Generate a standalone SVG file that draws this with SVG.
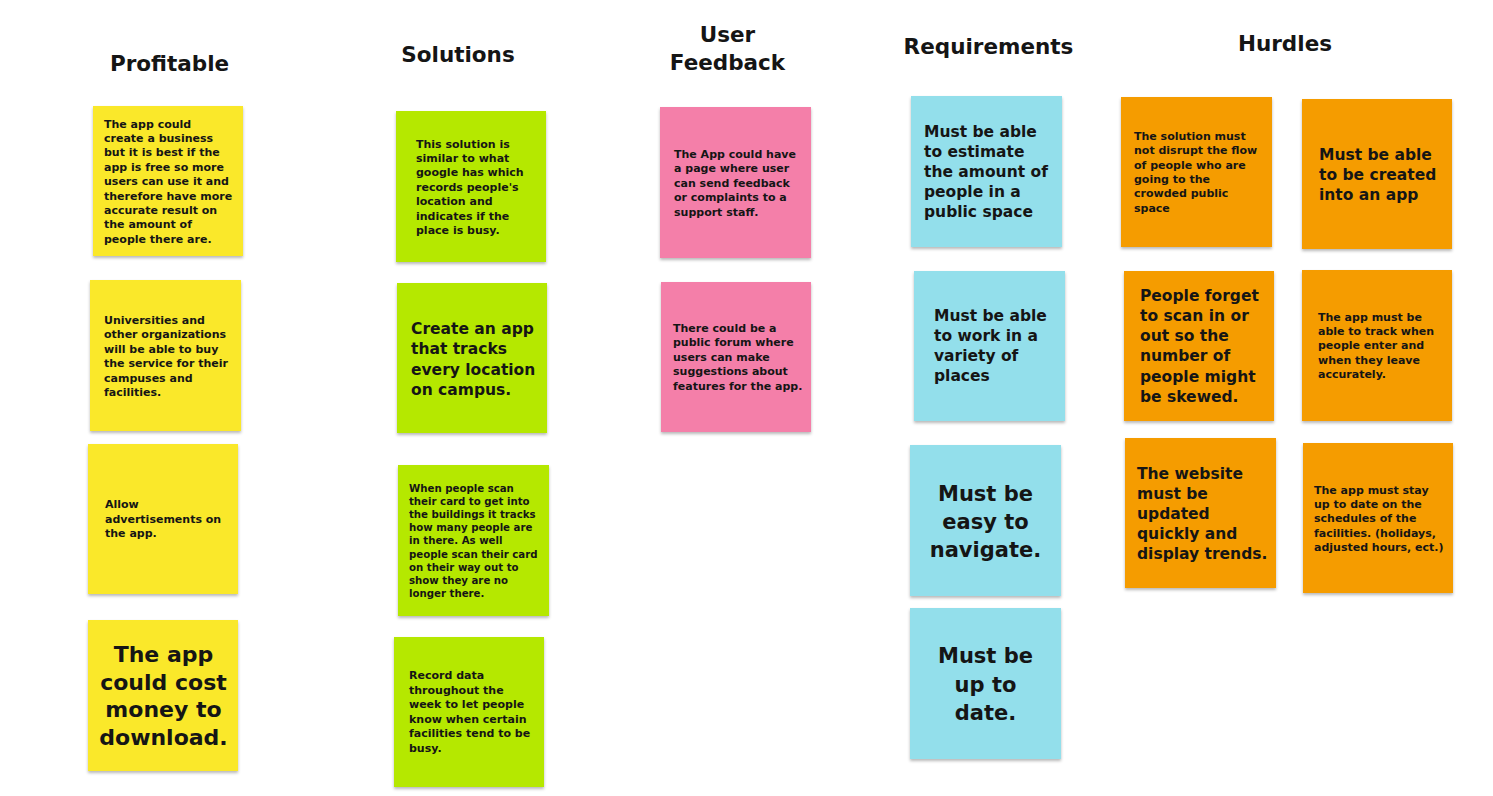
<svg xmlns="http://www.w3.org/2000/svg" width="1493" height="796" viewBox="0 0 1493 796">
<defs>
<filter id="sh" x="-10%" y="-10%" width="120%" height="125%">
<feDropShadow dx="0" dy="2" stdDeviation="1.5" flood-color="#000" flood-opacity="0.28"/>
</filter>
<style>
text{font-family:"DejaVu Sans","Liberation Sans",sans-serif;font-weight:bold;fill:#151515}
.h{font-size:21.5px;text-anchor:middle}
.s{font-size:11px}
.xs{font-size:10.2px}
.m{font-size:15.5px}
.l{font-size:21px;text-anchor:middle}
.ll{font-size:22px;text-anchor:middle}
.note{filter:url(#sh)}
.y{fill:#fae82a}
.g{fill:#b5e800}
.p{fill:#f47fa9}
.b{fill:#93dfeb}
.o{fill:#f59c00}
</style>
</defs>
<rect width="1493" height="796" fill="#ffffff"/>

<g id="headers">
<text class="h" x="169.5" y="71">Profitable</text>
<text class="h" x="458" y="62">Solutions</text>
<text class="h" x="727.5" y="41.5">User</text>
<text class="h" x="727.5" y="69.5">Feedback</text>
<text class="h" x="988.5" y="53.5">Requirements</text>
<text class="h" x="1285" y="51">Hurdles</text>
</g>

<g id="connectors"></g>

<!-- Profitable -->
<g id="profit1">
<rect class="note y" x="93" y="106" width="150" height="150"/>
<text class="s" x="104"><tspan x="104" y="127.5">The app could</tspan><tspan x="104" y="141.9">create a business</tspan><tspan x="104" y="156.3">but it is best if the</tspan><tspan x="104" y="170.7">app is free so more</tspan><tspan x="104" y="185.1">users can use it and</tspan><tspan x="104" y="199.5">therefore have more</tspan><tspan x="104" y="213.9">accurate result on</tspan><tspan x="104" y="228.3">the amount of</tspan><tspan x="104" y="242.7">people there are.</tspan></text>
</g>
<g id="profit2">
<rect class="note y" x="90" y="280" width="151" height="151"/>
<text class="s"><tspan x="104" y="323.5">Universities and</tspan><tspan x="104" y="338">other organizations</tspan><tspan x="104" y="352.5">will be able to buy</tspan><tspan x="104" y="367">the service for their</tspan><tspan x="104" y="381.5">campuses and</tspan><tspan x="104" y="396">facilities.</tspan></text>
</g>
<g id="profit3">
<rect class="note y" x="88" y="444" width="150" height="150"/>
<text class="s"><tspan x="105" y="508">Allow</tspan><tspan x="105" y="522.5">advertisements on</tspan><tspan x="105" y="537">the app.</tspan></text>
</g>
<g id="profit4">
<rect class="note y" x="88" y="620" width="150" height="151"/>
<text class="ll"><tspan x="163.5" y="662">The app</tspan><tspan x="163.5" y="689.5">could cost</tspan><tspan x="163.5" y="717">money to</tspan><tspan x="163.5" y="744.5">download.</tspan></text>
</g>

<!-- Solutions -->
<g id="sol1">
<rect class="note g" x="396" y="111" width="150" height="151"/>
<text class="s"><tspan x="416" y="147.5">This solution is</tspan><tspan x="416" y="161.9">similar to what</tspan><tspan x="416" y="176.3">google has which</tspan><tspan x="416" y="190.7">records people's</tspan><tspan x="416" y="205.1">location and</tspan><tspan x="416" y="219.5">indicates if the</tspan><tspan x="416" y="233.9">place is busy.</tspan></text>
</g>
<g id="sol2">
<rect class="note g" x="397" y="283" width="150" height="150"/>
<text class="m"><tspan x="411" y="333.5">Create an app</tspan><tspan x="411" y="354">that tracks</tspan><tspan x="411" y="374.5">every location</tspan><tspan x="411" y="395">on campus.</tspan></text>
</g>
<g id="sol3">
<rect class="note g" x="398" y="465" width="151" height="151"/>
<text class="xs"><tspan x="409" y="492">When people scan</tspan><tspan x="409" y="505.1">their card to get into</tspan><tspan x="409" y="518.2">the buildings it tracks</tspan><tspan x="409" y="531.3">how many people are</tspan><tspan x="409" y="544.4">in there. As well</tspan><tspan x="409" y="557.5">people scan their card</tspan><tspan x="409" y="570.6">on their way out to</tspan><tspan x="409" y="583.7">show they are no</tspan><tspan x="409" y="596.8">longer there.</tspan></text>
</g>
<g id="sol4">
<rect class="note g" x="394" y="637" width="150" height="150"/>
<text class="s"><tspan x="409" y="679">Record data</tspan><tspan x="409" y="693.5">throughout the</tspan><tspan x="409" y="708">week to let people</tspan><tspan x="409" y="722.5">know when certain</tspan><tspan x="409" y="737">facilities tend to be</tspan><tspan x="409" y="751.5">busy.</tspan></text>
</g>

<!-- User Feedback -->
<g id="fb1">
<rect class="note p" x="660" y="107" width="151" height="151"/>
<text class="s"><tspan x="674" y="158">The App could have</tspan><tspan x="674" y="172.4">a page where user</tspan><tspan x="674" y="186.8">can send feedback</tspan><tspan x="674" y="201.2">or complaints to a</tspan><tspan x="674" y="215.6">support staff.</tspan></text>
</g>
<g id="fb2">
<rect class="note p" x="661" y="282" width="150" height="150"/>
<text class="s"><tspan x="673" y="331.5">There could be a</tspan><tspan x="673" y="346">public forum where</tspan><tspan x="673" y="360.5">users can make</tspan><tspan x="673" y="375">suggestions about</tspan><tspan x="673" y="389.5">features for the app.</tspan></text>
</g>

<!-- Requirements -->
<g id="req1">
<rect class="note b" x="911" y="96" width="151" height="151"/>
<text class="m"><tspan x="924" y="137">Must be able</tspan><tspan x="924" y="157">to estimate</tspan><tspan x="924" y="177">the amount of</tspan><tspan x="924" y="197">people in a</tspan><tspan x="924" y="217">public space</tspan></text>
</g>
<g id="req2">
<rect class="note b" x="914" y="271" width="151" height="150"/>
<text class="m"><tspan x="934" y="321">Must be able</tspan><tspan x="934" y="341">to work in a</tspan><tspan x="934" y="361">variety of</tspan><tspan x="934" y="381">places</tspan></text>
</g>
<g id="req3">
<rect class="note b" x="910" y="445" width="151" height="151"/>
<text class="l"><tspan x="985.5" y="501">Must be</tspan><tspan x="985.5" y="529">easy to</tspan><tspan x="985.5" y="557">navigate.</tspan></text>
</g>
<g id="req4">
<rect class="note b" x="910" y="608" width="151" height="151"/>
<text class="l"><tspan x="985.5" y="663">Must be</tspan><tspan x="985.5" y="691.5">up to</tspan><tspan x="985.5" y="720">date.</tspan></text>
</g>

<!-- Hurdles -->
<g id="hur1">
<rect class="note o" x="1121" y="97" width="151" height="150"/>
<text class="s"><tspan x="1134" y="140">The solution must</tspan><tspan x="1134" y="154.3">not disrupt the flow</tspan><tspan x="1134" y="168.6">of people who are</tspan><tspan x="1134" y="182.9">going to the</tspan><tspan x="1134" y="197.2">crowded public</tspan><tspan x="1134" y="211.5">space</tspan></text>
</g>
<g id="hur2">
<rect class="note o" x="1302" y="99" width="150" height="150"/>
<text class="m"><tspan x="1319" y="159.5">Must be able</tspan><tspan x="1319" y="179.8">to be created</tspan><tspan x="1319" y="200.1">into an app</tspan></text>
</g>
<g id="hur3">
<rect class="note o" x="1124" y="271" width="150" height="150"/>
<text class="m"><tspan x="1140" y="300.5">People forget</tspan><tspan x="1140" y="320.8">to scan in or</tspan><tspan x="1140" y="341.1">out so the</tspan><tspan x="1140" y="361.4">number of</tspan><tspan x="1140" y="381.7">people might</tspan><tspan x="1140" y="402">be skewed.</tspan></text>
</g>
<g id="hur4">
<rect class="note o" x="1302" y="270" width="150" height="151"/>
<text class="s"><tspan x="1318" y="321">The app must be</tspan><tspan x="1318" y="335.2">able to track when</tspan><tspan x="1318" y="349.4">people enter and</tspan><tspan x="1318" y="363.6">when they leave</tspan><tspan x="1318" y="377.8">accurately.</tspan></text>
</g>
<g id="hur5">
<rect class="note o" x="1125" y="438" width="151" height="150"/>
<text class="m"><tspan x="1137" y="478.5">The website</tspan><tspan x="1137" y="498.5">must be</tspan><tspan x="1137" y="518.5">updated</tspan><tspan x="1137" y="538.5">quickly and</tspan><tspan x="1137" y="558.5">display trends.</tspan></text>
</g>
<g id="hur6">
<rect class="note o" x="1303" y="443" width="150" height="150"/>
<text class="s"><tspan x="1314" y="494">The app must stay</tspan><tspan x="1314" y="508.2">up to date on the</tspan><tspan x="1314" y="522.4">schedules of the</tspan><tspan x="1314" y="536.6">facilities. (holidays,</tspan><tspan x="1314" y="550.8">adjusted hours, ect.)</tspan></text>
</g>
</svg>
